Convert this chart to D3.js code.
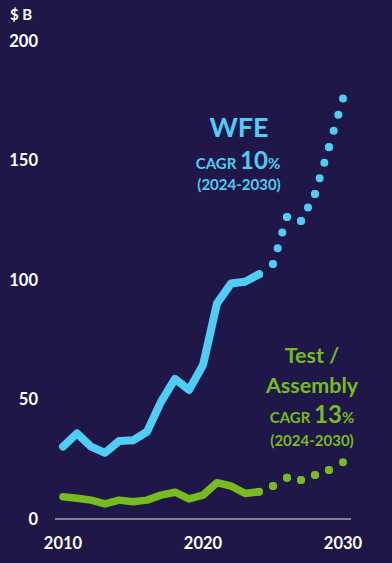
<!DOCTYPE html>
<html><head><meta charset="utf-8">
<script src="https://cdn.jsdelivr.net/npm/d3@7"></script>
<style>
html,body{margin:0;padding:0;background:#1f1747;}
svg{display:block;font-family:Lato,"Open Sans",sans-serif;font-weight:700;}
</style></head>
<body><svg id="c" width="392" height="563"></svg>
<script>
const yearsActual = [2010,2011,2012,2013,2014,2015,2016,2017,2018,2019,2020,2021,2022,2023,2024];
const wfeActual = [30.3,35.8,30.3,27.7,32.6,32.9,36.5,49,58.6,54,64.4,90.2,98.5,99.3,102.4];
const testActual = [9.3,8.7,7.9,6.3,7.9,7.2,7.9,10,11.2,8.4,10,15.2,13.8,10.7,11.4];
const yearsForecast = [2024,2025,2026,2027,2028,2029,2030];
const wfeForecast = [102.4,106.7,126.4,124.7,136,155.6,176];
const testForecast = [11.4,13.8,17.3,16.3,18.4,20.5,23.7];
const yTicks = [0,50,100,150,200];
const xTicks = [2010,2020,2030];

const BLUE = "#4fcdf5", GREEN = "#78bb1e";
const svg = d3.select("#c");
const x = d3.scaleLinear().domain([2010,2030]).range([63,343]);
const y = d3.scaleLinear().domain([0,200]).range([519,41]);

// baseline
svg.append("line").attr("x1",55).attr("x2",351).attr("y1",y(0)).attr("y2",y(0))
  .attr("stroke","#e8e8f0").attr("stroke-width",1.2);

// y axis labels
svg.selectAll(".yt").data(yTicks).enter().append("text")
  .attr("x",38).attr("y",d=>y(d)).attr("dy","0.36em").attr("text-anchor","end")
  .attr("fill","#fff").attr("font-size",16.5).text(d=>d);
svg.append("text").attr("x",10).attr("y",20).attr("fill","#fff").attr("font-size",15).text("$ B");

// x axis labels
svg.selectAll(".xt").data(xTicks).enter().append("text")
  .attr("x",d=>x(d)).attr("y",549).attr("text-anchor","middle")
  .attr("fill","#fff").attr("font-size",16.5).text(d=>d);

const line = d3.line().x(d=>x(d[0])).y(d=>y(d[1]));

function solid(years, vals, color, w){
  svg.append("path").datum(years.map((yr,i)=>[yr,vals[i]]))
    .attr("d",line).attr("fill","none").attr("stroke",color).attr("stroke-width",w)
    .attr("stroke-linejoin","round").attr("stroke-linecap","round");
}
function dotted(years, vals, color, w, gap){
  const pts = years.map((yr,i)=>[yr,vals[i]]);
  for(let i=1;i<pts.length;i++){
    const a=pts[i-1], b=pts[i];
    const L = Math.hypot(x(b[0])-x(a[0]), y(b[1])-y(a[1]));
    const n = Math.max(1, Math.round(L/gap));
    svg.append("path").datum([a,b]).attr("d",line).attr("fill","none")
      .attr("stroke",color).attr("stroke-width",w).attr("stroke-linecap","round")
      .attr("stroke-dasharray",`0,${L/n - 0.01}`);
  }
}
solid(yearsActual, wfeActual, BLUE, 8);
dotted(yearsForecast, wfeForecast, BLUE, 8, 16);
solid(yearsActual, testActual, GREEN, 7.5);
dotted(yearsForecast, testForecast, GREEN, 8, 16);

// annotations
const wfe = svg.append("g").attr("fill",BLUE).attr("text-anchor","middle");
wfe.append("text").attr("x",239).attr("y",137).attr("font-size",27).text("WFE");
const c1 = wfe.append("text").attr("x",238).attr("y",169);
c1.append("tspan").attr("font-size",15).text("CAGR ");
c1.append("tspan").attr("font-size",24).text("10");
c1.append("tspan").attr("font-size",15).text("%");
wfe.append("text").attr("x",239).attr("y",190).attr("font-size",15).text("(2024-2030)");

const ta = svg.append("g").attr("fill",GREEN).attr("text-anchor","middle");
ta.append("text").attr("x",312).attr("y",363).attr("font-size",21.5).text("Test /");
ta.append("text").attr("x",312).attr("y",393).attr("font-size",21.5).text("Assembly");
const c2 = ta.append("text").attr("x",312).attr("y",423);
c2.append("tspan").attr("font-size",15).text("CAGR ");
c2.append("tspan").attr("font-size",24).text("13");
c2.append("tspan").attr("font-size",15).text("%");
ta.append("text").attr("x",312).attr("y",446).attr("font-size",15).text("(2024-2030)");
</script></body></html>
